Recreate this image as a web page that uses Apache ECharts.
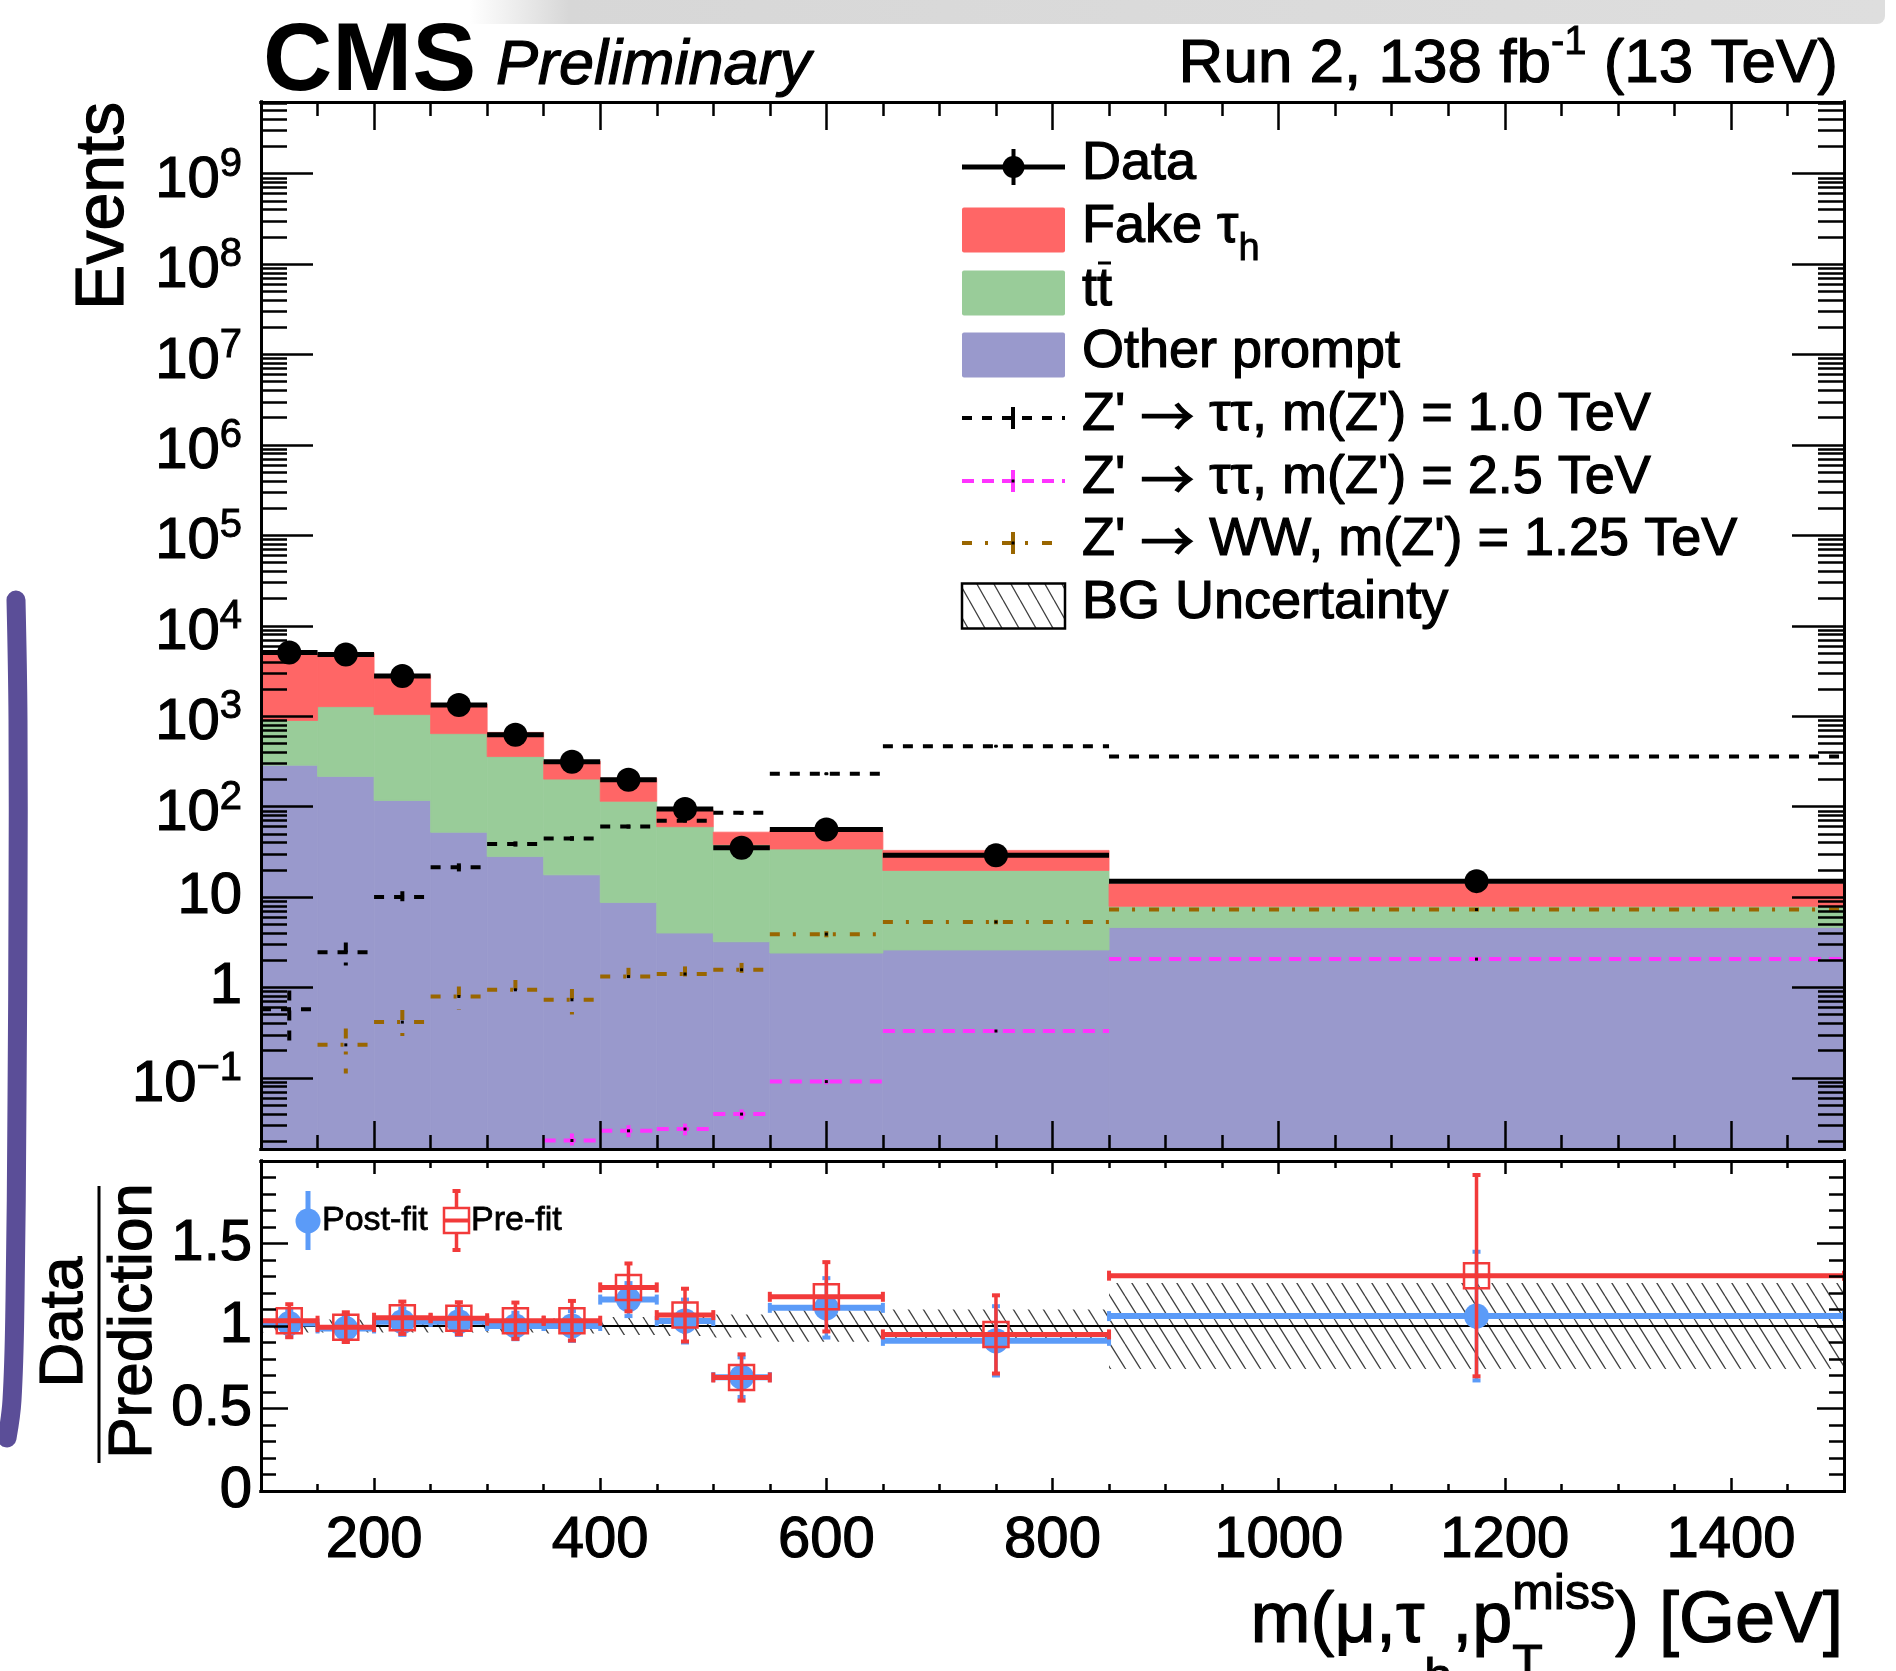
<!DOCTYPE html>
<html>
<head>
<meta charset="utf-8">
<title>m(mu, tau_h, pT miss)</title>
<script src="https://cdn.jsdelivr.net/npm/echarts@6.0.0/dist/echarts.min.js"></script>
<style>
  html, body { margin: 0; padding: 0; background: #fff; }
  #chart { width: 1896px; height: 1671px; }
</style>
</head>
<body>
<div id="chart"></div>
<script>
// bin edges [GeV]
const binEdges = [100, 150, 200, 250, 300, 350, 400, 450, 500, 550, 650, 850, 1500];

// backgrounds, events per bin (stacked: other prompt, ttbar, fake tau_h)
const otherPrompt = [287, 216, 117, 52, 28, 17.6, 8.7, 4.0, 3.2, 2.4, 2.6, 4.6];
const ttbar       = [610, 1060, 925, 590, 330, 184, 106, 56, 35, 31.6, 17.1, 3.3];
const fakeTau     = [3920, 3690, 1780, 726, 304, 116, 91, 32, 14, 20, 13.1, 6.1];

// observed data
const dataCounts = [5070, 4820, 2780, 1330, 624, 313, 198, 94, 35, 56, 29, 15];

// signals (null = below the plotted range)
const zTT1000    = [0.574, 2.45, 10.0, 21.4, 38.7, 44.5, 60.2, 70, 85.5, 231, 466, 358];
const zTT1000Err = [0.35, 0.7, 1.6, 2.2, 2.6, 2.6, 3, 3, 4, 6, 8, 6];
const zTT2500    = [null, null, null, null, null, 0.0203, 0.026, 0.0272, 0.0398, 0.091, 0.33, 2.06];
const zTT2500Err = [null, null, null, null, null, 0.004, 0.004, 0.004, 0.005, 0.006, 0.01, 0.02];
const zWW1250    = [null, 0.232, 0.414, 0.795, 0.943, 0.731, 1.32, 1.41, 1.57, 3.89, 5.3, 7.27];
const zWW1250Err = [null, 0.12, 0.15, 0.23, 0.27, 0.23, 0.33, 0.3, 0.3, 0.3, 0.3, 0.2];

// ratio panel
const ratioPost    = [1.015, 0.985, 1.026, 1.026, 1.0, 1.0, 1.16, 1.03, 0.69, 1.11, 0.91, 1.06];
const ratioPostErr = [0.08, 0.08, 0.08, 0.08, 0.08, 0.09, 0.10, 0.13, 0.12, 0.18, 0.21, 0.39];
const ratioPre     = [1.032, 0.993, 1.05, 1.047, 1.032, 1.032, 1.234, 1.066, 0.688, 1.177, 0.949, 1.305];
const ratioPreErr  = [0.10, 0.09, 0.098, 0.097, 0.11, 0.12, 0.145, 0.16, 0.14, 0.21, 0.237, 0.61];
const bgUnc        = [0.04, 0.04, 0.04, 0.04, 0.04, 0.045, 0.055, 0.06, 0.07, 0.096, 0.10, 0.26];

// axes
const X_MIN = 100, X_MAX = 1500;
const Y_MIN = 0.01636, Y_MAX = 6.2e9;
const xTickLabels = [200, 400, 600, 800, 1000, 1200, 1400];
const yTickLabels = [0.1, 1, 10, 100, 1e3, 1e4, 1e5, 1e6, 1e7, 1e8, 1e9];
const ratioTickLabels = [0, 0.5, 1, 1.5];

const FONT = '"Liberation Sans", Arial, Helvetica, sans-serif';
const C_FAKE = '#ff6666', C_TT = '#99cc99', C_OTHER = '#9999cc';
const C_Z25 = '#ff33ff', C_WW = '#996600';
const C_POST = '#5b9bf8', C_PRE = '#f23a3a';
const DASH_Z1 = [10, 10], DASH_Z25 = [12, 8], DASH_WW = [10, 13, 3, 14];
const TEXT_EDGE = 1.2; // ROOT text renders heavier than Liberation regular

// minor tick positions
const xMinor = [];
for (let x = 150; x < X_MAX; x += 50) if (x % 200) xMinor.push(x);
const yMinor = [];
for (let k = -2; k <= 9; k++) {
  for (let m = 2; m <= 9; m++) {
    const v = m * Math.pow(10, k);
    if (v > Y_MIN && v < Y_MAX) yMinor.push(v);
  }
}
const ratioMajor = [0, 0.5, 1, 1.5, 2];
const ratioMinor = [];
for (let i = 1; i < 20; i++) if (i % 5) ratioMinor.push(i / 10);

// hatch pattern "\\\\" for the uncertainty band
function hatch(w, h) {
  const c = document.createElement('canvas');
  c.width = w; c.height = h;
  const g = c.getContext('2d');
  g.strokeStyle = 'rgba(30,30,30,0.85)';
  g.lineWidth = 1.3;
  g.beginPath();
  for (let k = -1; k <= 1; k++) {
    g.moveTo(k * w, 0); g.lineTo(k * w + w, h);
  }
  g.stroke();
  return { image: c, repeat: 'repeat' };
}
const HATCH = hatch(15, 24);

// stacked tops
const topOther = otherPrompt.slice();
const topTT = otherPrompt.map((v, i) => v + ttbar[i]);
const topFake = topTT.map((v, i) => v + fakeTau[i]);
const baseLine = otherPrompt.map(() => Y_MIN);

function rectItems(lo, hi) {
  return lo.map((l, i) => [binEdges[i], binEdges[i + 1], l, hi[i]]);
}
function pointItems(vals, errs) {
  const out = [];
  vals.forEach((v, i) => {
    if (v == null) return;
    out.push([binEdges[i], binEdges[i + 1], v, errs ? errs[i] : 0]);
  });
  return out;
}

function renderRect(fill, stroke, lw) {
  return function (params, api) {
    const a = api.coord([api.value(0), api.value(2)]);
    const b = api.coord([api.value(1), api.value(3)]);
    return {
      type: 'rect',
      shape: { x: a[0], y: b[1], width: b[0] - a[0], height: a[1] - b[1] },
      style: { fill: fill, stroke: stroke || null, lineWidth: lw || 0 }
    };
  };
}

function renderSignal(color, dash) {
  return function (params, api) {
    const x0 = api.value(0), x1 = api.value(1), v = api.value(2), e = api.value(3);
    const xc = (x0 + x1) / 2;
    const pl = api.coord([x0, v]), pr = api.coord([x1, v]);
    const ph = api.coord([xc, v + e]), pb = api.coord([xc, Math.max(v - e, 1e-4)]);
    const ls = { stroke: color, lineWidth: 4, lineDash: dash };
    return {
      type: 'group',
      children: [
        { type: 'line', shape: { x1: pl[0], y1: pl[1], x2: pr[0], y2: pr[1] }, style: ls },
        { type: 'line', shape: { x1: ph[0], y1: ph[1], x2: pb[0], y2: pb[1] }, style: ls },
        { type: 'rect', shape: { x: ph[0] - 1.5, y: pl[1] - 1.5, width: 3, height: 3 }, style: { fill: '#000' } }
      ]
    };
  };
}

function renderData(params, api) {
  const x0 = api.value(0), x1 = api.value(1), v = api.value(2);
  const pl = api.coord([x0, v]), pr = api.coord([x1, v]);
  return {
    type: 'group',
    children: [
      { type: 'line', shape: { x1: pl[0], y1: pl[1], x2: pr[0], y2: pr[1] }, style: { stroke: '#000', lineWidth: 5 } },
      { type: 'circle', shape: { cx: (pl[0] + pr[0]) / 2, cy: pl[1], r: 12 }, style: { fill: '#000' } }
    ]
  };
}

function renderRatio(color, barW, square) {
  return function (params, api) {
    const x0 = api.value(0), x1 = api.value(1), v = api.value(2), e = api.value(3);
    const xc = (x0 + x1) / 2;
    const pl = api.coord([x0, v]), pr = api.coord([x1, v]);
    const ph = api.coord([xc, v + e]), pb = api.coord([xc, v - e]);
    const cx = ph[0], cy = pl[1];
    const kids = [
      { type: 'line', shape: { x1: pl[0], y1: cy, x2: pr[0], y2: cy }, style: { stroke: color, lineWidth: barW } },
      { type: 'line', shape: { x1: pl[0], y1: cy - 5, x2: pl[0], y2: cy + 5 }, style: { stroke: color, lineWidth: 4 } },
      { type: 'line', shape: { x1: pr[0], y1: cy - 5, x2: pr[0], y2: cy + 5 }, style: { stroke: color, lineWidth: 4 } },
      { type: 'line', shape: { x1: cx, y1: ph[1], x2: cx, y2: pb[1] }, style: { stroke: color, lineWidth: 3.5 } },
      { type: 'line', shape: { x1: cx - 4, y1: ph[1], x2: cx + 4, y2: ph[1] }, style: { stroke: color, lineWidth: 4 } },
      { type: 'line', shape: { x1: cx - 4, y1: pb[1], x2: cx + 4, y2: pb[1] }, style: { stroke: color, lineWidth: 4 } }
    ];
    if (square) {
      kids.push({ type: 'rect', shape: { x: cx - 12.5, y: cy - 12.5, width: 25, height: 25 },
        style: { fill: 'rgba(255,255,255,0)', stroke: color, lineWidth: 2.5 } });
    } else {
      kids.push({ type: 'circle', shape: { cx: cx, cy: cy, r: 12.5 }, style: { fill: color } });
    }
    return { type: 'group', children: kids };
  };
}

function logLabel(v) {
  const e = Math.round(Math.log10(v));
  if (e === 0) return '{c|1}';
  if (e === 1) return '{c|10}';
  return '{b|10}{s|' + (e < 0 ? '\u2212' + (-e) : e) + '}';
}

const edge = { textBorderColor: '#000', textBorderWidth: TEXT_EDGE };

function xAxis(grid, pos, ticks, len, labels) {
  return {
    type: 'value', gridIndex: grid, position: pos, min: X_MIN, max: X_MAX, z: 10,
    axisLine: { show: true, onZero: false, lineStyle: { color: '#000', width: 3, cap: 'square' } },
    axisTick: { show: true, inside: true, length: len, customValues: ticks, lineStyle: { color: '#000', width: 2.5 } },
    axisLabel: labels ? Object.assign({ show: true, customValues: labels, margin: 21, color: '#000', fontSize: 58,
                          fontFamily: FONT, formatter: v => String(v) }, edge)
                      : { show: false },
    splitLine: { show: false }
  };
}

function yAxis(grid, pos, log, ticks, len, labels) {
  const ax = {
    type: log ? 'log' : 'value', gridIndex: grid, position: pos, z: 10,
    min: log ? Y_MIN : 0, max: log ? Y_MAX : 2,
    axisLine: { show: true, onZero: false, lineStyle: { color: '#000', width: 3, cap: 'square' } },
    axisTick: { show: true, inside: true, length: len, customValues: ticks, lineStyle: { color: '#000', width: 2.5 } },
    axisLabel: { show: false },
    splitLine: { show: false }
  };
  if (log) ax.logBase = 10;
  if (labels && log) {
    ax.axisLabel = {
      show: true, customValues: labels, margin: 19, formatter: logLabel,
      rich: {
        b: Object.assign({ fontSize: 58, fontFamily: FONT, color: '#000', lineHeight: 58, padding: [14, 0, 0, 0] }, edge),
        c: Object.assign({ fontSize: 58, fontFamily: FONT, color: '#000', lineHeight: 58 }, edge),
        s: Object.assign({ fontSize: 40, fontFamily: FONT, color: '#000', lineHeight: 40, verticalAlign: 'top' }, edge, { textBorderWidth: 0.9 })
      }
    };
  } else if (labels) {
    ax.axisLabel = Object.assign({ show: true, customValues: labels, margin: 9, color: '#000', fontSize: 58, fontFamily: FONT }, edge);
  }
  return ax;
}

// text with sub/superscripts laid out piece by piece
const measureCtx = document.createElement('canvas').getContext('2d');
function fontOf(p) { return (p.st ? p.st + ' ' : '') + p.size + 'px ' + (p.ff ? '"' + p.ff + '", ' : '') + FONT; }
function widthOf(p) { measureCtx.font = fontOf(p); return measureCtx.measureText(p.t).width; }
function textRow(x, y, items, align) {
  const ws = items.map(it => Math.max.apply(null, (it.stack || [it]).map(widthOf)));
  const total = ws.reduce((a, b) => a + b, 0);
  let cx = align === 'right' ? x - total : x;
  const els = [];
  items.forEach((it, i) => {
    (it.stack || [it]).forEach(p => {
      const lw = p.st === 'bold' || p.thin ? 0 : TEXT_EDGE * Math.min(1, p.size / 54);
      els.push({ type: 'text', x: cx, y: y + (p.dy || 0), z: 100,
        style: { text: p.t, font: fontOf(p), fill: '#000', stroke: lw ? '#000' : null, lineWidth: lw,
                 align: 'left', verticalAlign: 'middle' } });
    });
    cx += ws[i];
  });
  return els;
}
function zLabel(rest) {
  return [{ t: "Z' ", size: LF }, { t: '\u2192', size: LF, ff: 'Noto Sans CJK JP', dy: 1 },
          { t: ' ' + rest, size: LF }];
}

// legend (main panel)
const LX = 962, LW = 103, LTX = 1082, LF = 54, LFs = 38;
const rowY = [167, 230, 293, 355, 418, 481, 543, 606];
const legend = [];
legend.push(
  { type: 'line', z: 100, shape: { x1: LX, y1: rowY[0], x2: LX + LW, y2: rowY[0] }, style: { stroke: '#000', lineWidth: 5 } },
  { type: 'line', z: 100, shape: { x1: LX + 51.5, y1: rowY[0] - 18, x2: LX + 51.5, y2: rowY[0] + 18 }, style: { stroke: '#000', lineWidth: 4 } },
  { type: 'circle', z: 100, shape: { cx: LX + 51.5, cy: rowY[0], r: 11 }, style: { fill: '#000' } }
);
[[C_FAKE, 1], [C_TT, 2], [C_OTHER, 3]].forEach(([c, r]) => {
  legend.push({ type: 'rect', z: 100, shape: { x: LX, y: rowY[r] - 22.5, width: LW, height: 45, r: 2 }, style: { fill: c } });
});
[['#000', DASH_Z1, 4, false], [C_Z25, DASH_Z25, 5, true], [C_WW, DASH_WW, 6, true]].forEach(([c, d, r, dot]) => {
  legend.push(
    { type: 'line', z: 100, shape: { x1: LX, y1: rowY[r], x2: LX + LW, y2: rowY[r] }, style: { stroke: c, lineWidth: 4, lineDash: d } },
    { type: 'line', z: 100, shape: { x1: LX + 51, y1: rowY[r] - 11, x2: LX + 51, y2: rowY[r] + 11 }, style: { stroke: c, lineWidth: 4 } }
  );
  if (dot) legend.push({ type: 'rect', z: 101, shape: { x: LX + 49.5, y: rowY[r] - 1.5, width: 3, height: 3 }, style: { fill: '#000' } });
});
legend.push({ type: 'rect', z: 100, shape: { x: LX, y: rowY[7] - 22.5, width: LW, height: 45 },
  style: { fill: hatch(17, 30), stroke: '#000', lineWidth: 2.5 } });

legend.push.apply(legend, textRow(LTX, rowY[0] - 3, [{ t: 'Data', size: LF }]));
legend.push.apply(legend, textRow(LTX, rowY[1] - 3, [{ t: 'Fake \u03c4', size: LF }, { t: 'h', size: LFs, dy: 23 }]));
legend.push.apply(legend, textRow(LTX, rowY[2] - 3, [{ t: 'tt', size: LF }]));
(function () {
  const wt = widthOf({ t: 't', size: LF });
  legend.push({ type: 'line', z: 100, shape: { x1: LTX + wt + 1, y1: rowY[2] - 30, x2: LTX + 2 * wt - 1, y2: rowY[2] - 30 },
    style: { stroke: '#000', lineWidth: 3 } });
})();
legend.push.apply(legend, textRow(LTX, rowY[3] - 3, [{ t: 'Other prompt', size: LF }]));
legend.push.apply(legend, textRow(LTX, rowY[4] - 3, zLabel("\u03c4\u03c4, m(Z') = 1.0 TeV")));
legend.push.apply(legend, textRow(LTX, rowY[5] - 3, zLabel("\u03c4\u03c4, m(Z') = 2.5 TeV")));
legend.push.apply(legend, textRow(LTX, rowY[6] - 3, zLabel("WW, m(Z') = 1.25 TeV")));
legend.push.apply(legend, textRow(LTX, rowY[7] - 3, [{ t: 'BG Uncertainty', size: LF }]));

// legend (ratio panel)
legend.push(
  { type: 'line', z: 100, shape: { x1: 308, y1: 1191, x2: 308, y2: 1250 }, style: { stroke: C_POST, lineWidth: 5 } },
  { type: 'circle', z: 100, shape: { cx: 308, cy: 1221, r: 12.5 }, style: { fill: C_POST } },
  { type: 'line', z: 100, shape: { x1: 456.5, y1: 1191, x2: 456.5, y2: 1250 }, style: { stroke: C_PRE, lineWidth: 3.5 } },
  { type: 'line', z: 100, shape: { x1: 452.5, y1: 1191, x2: 460.5, y2: 1191 }, style: { stroke: C_PRE, lineWidth: 4 } },
  { type: 'line', z: 100, shape: { x1: 452.5, y1: 1250, x2: 460.5, y2: 1250 }, style: { stroke: C_PRE, lineWidth: 4 } },
  { type: 'rect', z: 101, shape: { x: 444, y: 1208, width: 25, height: 25 }, style: { fill: '#fff', stroke: C_PRE, lineWidth: 2.5 } },
  { type: 'line', z: 102, shape: { x1: 444, y1: 1220.5, x2: 469, y2: 1220.5 }, style: { stroke: C_PRE, lineWidth: 4 } }
);
legend.push.apply(legend, textRow(322, 1221, [{ t: 'Post-fit', size: 34 }]));
legend.push.apply(legend, textRow(471, 1221, [{ t: 'Pre-fit', size: 34 }]));

// header, titles
const texts = [];
texts.push.apply(texts, textRow(263, 64, [{ t: 'CMS', size: 96, st: 'bold' }]));
texts.push.apply(texts, textRow(496, 66, [{ t: 'Preliminary', size: 63, st: 'italic' }]));
texts.push.apply(texts, textRow(1838, 65, [{ t: 'Run 2, 138 fb', size: 62 }, { t: '-1', size: 40, dy: -22 }, { t: ' (13 TeV)', size: 62 }], 'right'));
texts.push.apply(texts, textRow(1843, 1622, [
  { t: 'm(\u03bc,\u03c4', size: 72 },
  { t: 'h', size: 50, dy: 57 },
  { t: ',p', size: 72 },
  { stack: [{ t: 'miss', size: 50, dy: -27 }, { t: 'T', size: 50, dy: 44 }] },
  { t: ') [GeV]', size: 72 }
], 'right'));
const rotStyle = { fill: '#000', stroke: '#000', lineWidth: TEXT_EDGE, verticalAlign: 'middle' };
texts.push(
  { type: 'text', x: 104, y: 102, rotation: Math.PI / 2, z: 100,
    style: Object.assign({ text: 'Events', font: '68px ' + FONT, align: 'right' }, rotStyle) },
  { type: 'text', x: 65, y: 1322, rotation: Math.PI / 2, z: 100,
    style: Object.assign({ text: 'Data', font: '62px ' + FONT, align: 'center' }, rotStyle) },
  { type: 'text', x: 134, y: 1321, rotation: Math.PI / 2, z: 100,
    style: Object.assign({ text: 'Prediction', font: '62px ' + FONT, align: 'center' }, rotStyle) },
  { type: 'line', z: 100, shape: { x1: 99, y1: 1186, x2: 99, y2: 1463 }, style: { stroke: '#000', lineWidth: 3 } }
);

// screenshot leftovers: window shadow on top, marker scribble on the left
const decor = [
  { type: 'rect', z: 0, shape: { x: 470, y: 0, width: 1415, height: 24, r: [0, 0, 8, 0] },
    style: { fill: new echarts.graphic.LinearGradient(0, 0, 1, 0, [
      { offset: 0, color: 'rgba(215,215,215,0)' }, { offset: 0.07, color: 'rgba(215,215,215,1)' },
      { offset: 1, color: 'rgba(222,222,222,1)' }]) } },
  { type: 'polyline', z: 0, shape: { points: [[16, 600], [18, 720], [18, 900], [17, 1100], [15, 1300], [12, 1400], [7, 1438]], smooth: 0.4 },
    style: { stroke: '#5b4e98', lineWidth: 19, lineCap: 'round', fill: null } }
];

const chart = echarts.init(document.getElementById('chart'));
chart.setOption({
  animation: false,
  backgroundColor: '#fff',
  grid: [
    { left: 261, top: 102, width: 1583, height: 1047, show: false },
    { left: 261, top: 1161, width: 1583, height: 330, show: false }
  ],
  xAxis: [
    xAxis(0, 'bottom', xTickLabels, 28), xAxis(0, 'bottom', xMinor, 14),
    xAxis(0, 'top', xTickLabels, 28), xAxis(0, 'top', xMinor, 14),
    xAxis(1, 'bottom', xTickLabels, 13, xTickLabels), xAxis(1, 'bottom', xMinor, 7),
    xAxis(1, 'top', xTickLabels, 13), xAxis(1, 'top', xMinor, 7)
  ],
  yAxis: [
    yAxis(0, 'left', true, yTickLabels, 52, yTickLabels), yAxis(0, 'left', true, yMinor, 26),
    yAxis(0, 'right', true, yTickLabels, 52), yAxis(0, 'right', true, yMinor, 26),
    yAxis(1, 'left', false, ratioMajor, 27, ratioTickLabels), yAxis(1, 'left', false, ratioMinor, 15),
    yAxis(1, 'right', false, ratioMajor, 27), yAxis(1, 'right', false, ratioMinor, 15)
  ],
  series: [
    { type: 'custom', name: 'Other prompt', xAxisIndex: 0, yAxisIndex: 0, clip: true, z: 2,
      encode: { x: [0, 1], y: [2, 3] }, data: rectItems(baseLine, topOther), renderItem: renderRect(C_OTHER, C_OTHER, 0.8) },
    { type: 'custom', name: 'ttbar', xAxisIndex: 0, yAxisIndex: 0, clip: true, z: 2,
      encode: { x: [0, 1], y: [2, 3] }, data: rectItems(topOther, topTT), renderItem: renderRect(C_TT, C_TT, 0.8) },
    { type: 'custom', name: 'Fake tau_h', xAxisIndex: 0, yAxisIndex: 0, clip: true, z: 2,
      encode: { x: [0, 1], y: [2, 3] }, data: rectItems(topTT, topFake), renderItem: renderRect(C_FAKE, C_FAKE, 0.8) },
    { type: 'custom', name: "Z' tautau 2.5 TeV", xAxisIndex: 0, yAxisIndex: 0, clip: true, z: 3,
      encode: { x: [0, 1], y: 2 }, data: pointItems(zTT2500, zTT2500Err), renderItem: renderSignal(C_Z25, DASH_Z25) },
    { type: 'custom', name: "Z' WW 1.25 TeV", xAxisIndex: 0, yAxisIndex: 0, clip: true, z: 3,
      encode: { x: [0, 1], y: 2 }, data: pointItems(zWW1250, zWW1250Err), renderItem: renderSignal(C_WW, DASH_WW) },
    { type: 'custom', name: "Z' tautau 1.0 TeV", xAxisIndex: 0, yAxisIndex: 0, clip: true, z: 3,
      encode: { x: [0, 1], y: 2 }, data: pointItems(zTT1000, zTT1000Err), renderItem: renderSignal('#000', DASH_Z1) },
    { type: 'custom', name: 'Data', xAxisIndex: 0, yAxisIndex: 0, clip: true, z: 4,
      encode: { x: [0, 1], y: 2 }, data: pointItems(dataCounts), renderItem: renderData },

    { type: 'custom', name: 'BG Uncertainty', xAxisIndex: 4, yAxisIndex: 4, clip: true, z: 2,
      encode: { x: [0, 1], y: [2, 3] },
      data: rectItems(bgUnc.map(u => 1 - u), bgUnc.map(u => 1 + u)), renderItem: renderRect(HATCH) },
    { type: 'line', name: 'unity', xAxisIndex: 4, yAxisIndex: 4, z: 3, silent: true, symbol: 'none',
      data: [[X_MIN, 1], [X_MAX, 1]], lineStyle: { color: '#000', width: 2.2 } },
    { type: 'custom', name: 'Post-fit', xAxisIndex: 4, yAxisIndex: 4, clip: true, z: 4,
      encode: { x: [0, 1], y: 2 }, data: pointItems(ratioPost, ratioPostErr), renderItem: renderRatio(C_POST, 6, false) },
    { type: 'custom', name: 'Pre-fit', xAxisIndex: 4, yAxisIndex: 4, clip: true, z: 5,
      encode: { x: [0, 1], y: 2 }, data: pointItems(ratioPre, ratioPreErr), renderItem: renderRatio(C_PRE, 5, true) }
  ],
  graphic: decor.concat(legend, texts)
});
</script>
</body>
</html>
